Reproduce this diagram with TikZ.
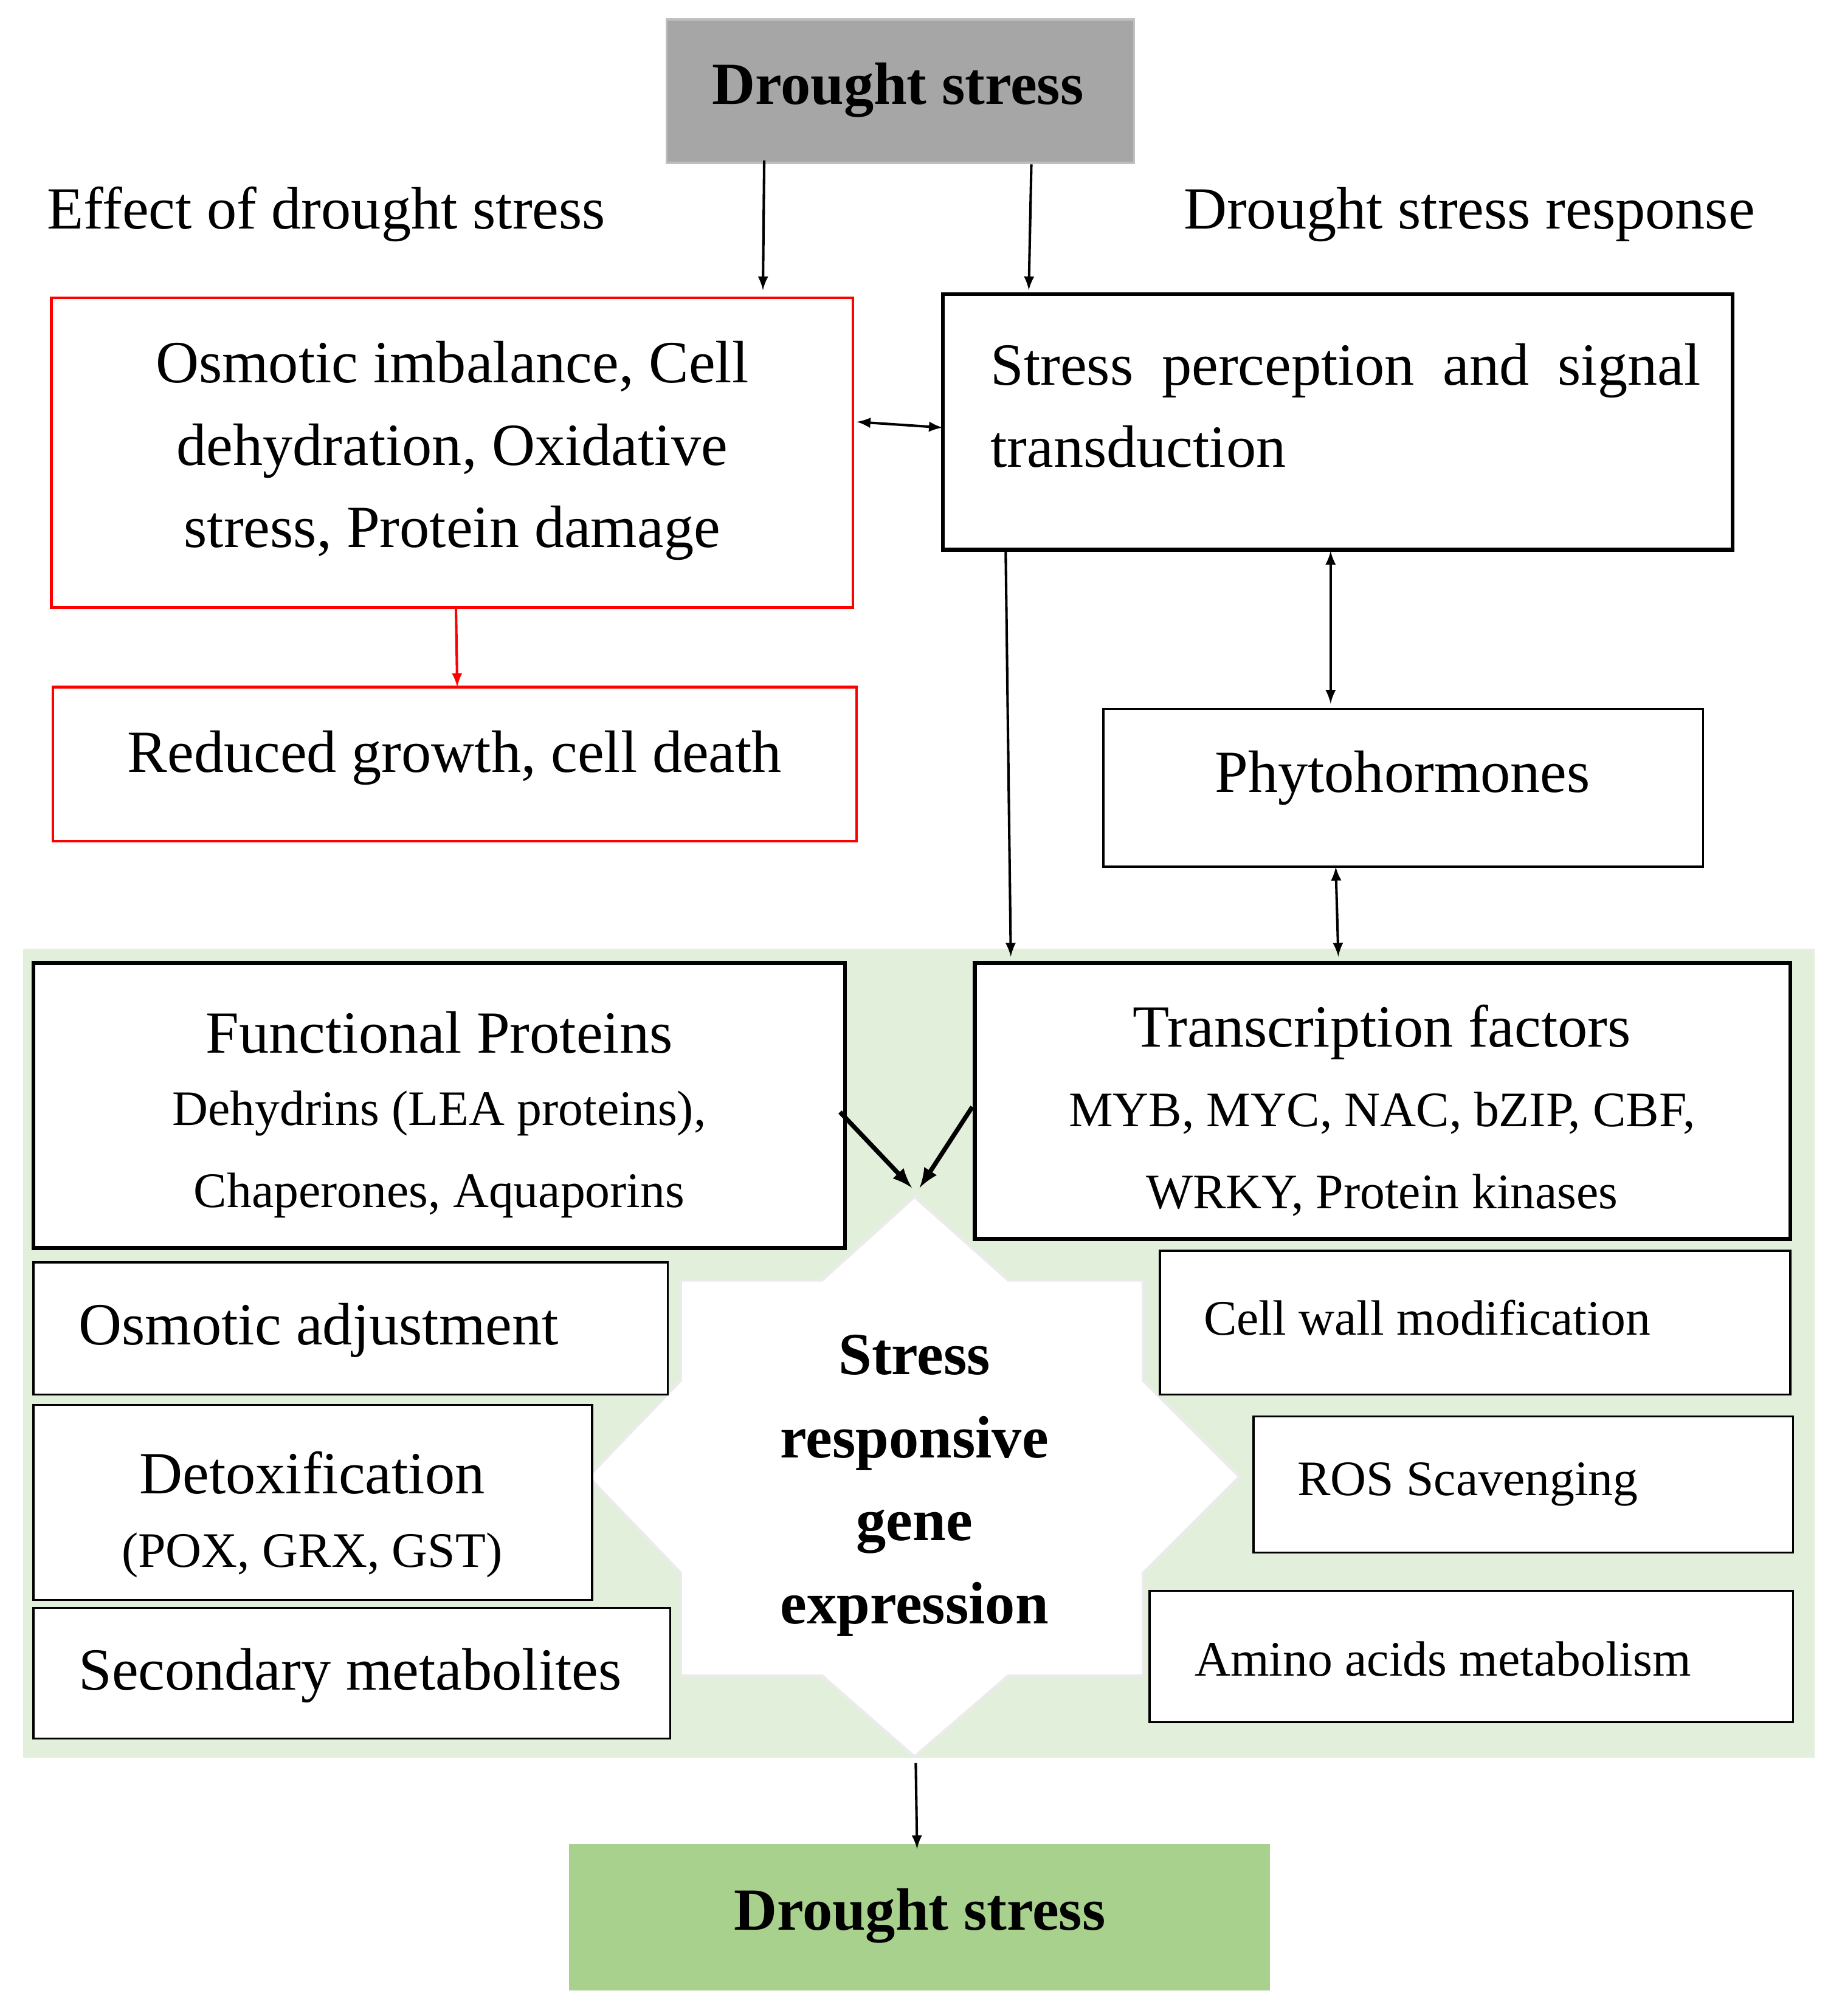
\documentclass[tikz,border=0pt]{standalone}
\usepackage{fontspec}
\setmainfont{Liberation Serif}
\begin{document}
\begin{tikzpicture}[x=0.02cm,y=-0.02cm,
  big/.style={font=\fontsize{26.5}{36.4}\selectfont},
  sm/.style={font=\fontsize{22}{36.4}\selectfont},
  thin/.style={draw=black,line width=0.9pt,inner sep=0pt},
  thick/.style={draw=black,line width=1.8pt,inner sep=0pt},
  redb/.style={draw=red,line width=1.2pt,inner sep=0pt},
  arr/.style={-latex,line width=1.1pt},
  darr/.style={latex-latex,line width=1.1pt}]
\useasboundingbox (0,0) rectangle (1434,1570);
% top
\node[fill=black!35,draw=black!25,line width=1pt,minimum width=7.28cm,minimum height=2.24cm] (top) at (701,71) {};
\node[font=\fontsize{26.5}{36.4}\selectfont\bfseries] (topt) at (699,70) {Drought stress};
\node[big] (eff) at (254,167) {Effect of drought stress};
\node[big] (resp) at (1144,167) {Drought stress response};
% red
\node[redb,minimum width=12.48cm,minimum height=4.82cm] (osm) at (352,352.5) {};
\node[big,align=center] (osmt) at (352,351) {Osmotic imbalance, Cell\\dehydration, Oxidative\\stress, Protein damage};
\node[redb,minimum width=12.52cm,minimum height=2.4cm] (red2) at (354,595) {};
\node[big] (red2t) at (354,590) {Reduced growth, cell death};
% perception
\node[thick,minimum width=12.3cm,minimum height=3.98cm] (per) at (1041.5,328.5) {};
\node[big,text width=11.06cm,align=justify,anchor=west] (pert) at (765,316) {Stress perception and signal transduction};
\node[thin,minimum width=9.34cm,minimum height=2.46cm] (phy) at (1092.5,613.5) {};
\node[big] (phyt) at (1092,606) {Phytohormones};
% green background
\fill[fill={rgb,255:red,226;green,239;blue,218}] (18,739) rectangle (1413,1369);
% star
\filldraw[fill=white,draw=black!8,line width=1.2pt] (712,932) -- (785,997) -- (890,997) -- (890,1075) -- (965,1150) -- (890,1225) -- (890,1305) -- (785,1305) -- (712,1368) -- (640,1305) -- (530,1305) -- (530,1225) -- (458,1150) -- (530,1075) -- (530,997) -- (640,997) -- cycle;
\node[font=\fontsize{26.5}{36.8}\selectfont\bfseries,align=center] (star) at (712,1157) {Stress\\responsive\\gene\\expression};
% boxes
\node[thick,fill=white,minimum width=12.64cm,minimum height=4.44cm] (fun) at (342,861) {};
\node[big] (funt) at (342,804) {Functional Proteins};
\node[sm,align=center] (funs) at (342,899) {Dehydrins (LEA proteins),\\Chaperones, Aquaporins};
\node[thick,fill=white,minimum width=12.7cm,minimum height=4.3cm] (tf) at (1076.5,857.5) {};
\node[big] (tft) at (1076,804) {Transcription factors};
\node[sm,align=center] (tfs) at (1076,899) {MYB, MYC, NAC, bZIP, CBF,\\WRKY, Protein kinases};
\node[thin,fill=white,minimum width=9.88cm,minimum height=2.06cm] (oa) at (273,1034.5) {};
\node[big,anchor=west] (oat) at (55,1036) {Osmotic adjustment};
\node[thin,fill=white,minimum width=8.7cm,minimum height=3.04cm] (det) at (243.5,1170) {};
\node[big] (dett) at (243,1147) {Detoxification};
\node[sm] (dets) at (243,1211) {(POX, GRX, GST)};
\node[thin,fill=white,minimum width=9.92cm,minimum height=2.04cm] (sec) at (274,1303) {};
\node[big,anchor=west] (sect) at (55,1305) {Secondary metabolites};
\node[thin,fill=white,minimum width=9.82cm,minimum height=2.24cm] (cw) at (1148.5,1030) {};
\node[sm,anchor=west] (cwt) at (931,1026) {Cell wall modification};
\node[thin,fill=white,minimum width=8.4cm,minimum height=2.12cm] (ros) at (1186,1156) {};
\node[sm,anchor=west] (rost) at (1004,1156) {ROS Scavenging};
\node[thin,fill=white,minimum width=10.02cm,minimum height=2.04cm] (am) at (1145.5,1290) {};
\node[sm,anchor=west] (amt) at (924,1292) {Amino acids metabolism};
% bottom
\node[fill={rgb,255:red,169;green,209;blue,142},minimum width=10.92cm,minimum height=2.28cm] (bot) at (716,1493) {};
\node[font=\fontsize{26.5}{36.4}\selectfont\bfseries] (bott) at (716,1492) {Drought stress};
% arrows
\coordinate (a1) at (595,125); \coordinate (a1e) at (594,226);
\coordinate (a2) at (803,128); \coordinate (a2e) at (801,226);
\draw[arr] (a1) -- (a1e);
\draw[arr] (a2) -- (a2e);
\draw[darr] (osm.east) ++(2,-24) coordinate (d1) -- (734,333) coordinate (d1e);
\draw[arr,red] (355,474) coordinate (r1) -- (356,535) coordinate (r1e);
\draw[arr] (783,429) coordinate (p1) -- (787,745) coordinate (p1e);
\draw[darr] (1036,429) coordinate (h1) -- (1036,548) coordinate (h1e);
\draw[darr] (1040,675) coordinate (h2) -- (1042,745) coordinate (h2e);
\draw[-latex,line width=2pt] (654,866) coordinate (f1) -- (710,925) coordinate (f1e);
\draw[-latex,line width=2pt] (757,862) coordinate (t1) -- (716,925) coordinate (t1e);
\draw[arr] (713,1373) coordinate (s1) -- (714,1440) coordinate (s1e);
\end{tikzpicture}
\end{document}
